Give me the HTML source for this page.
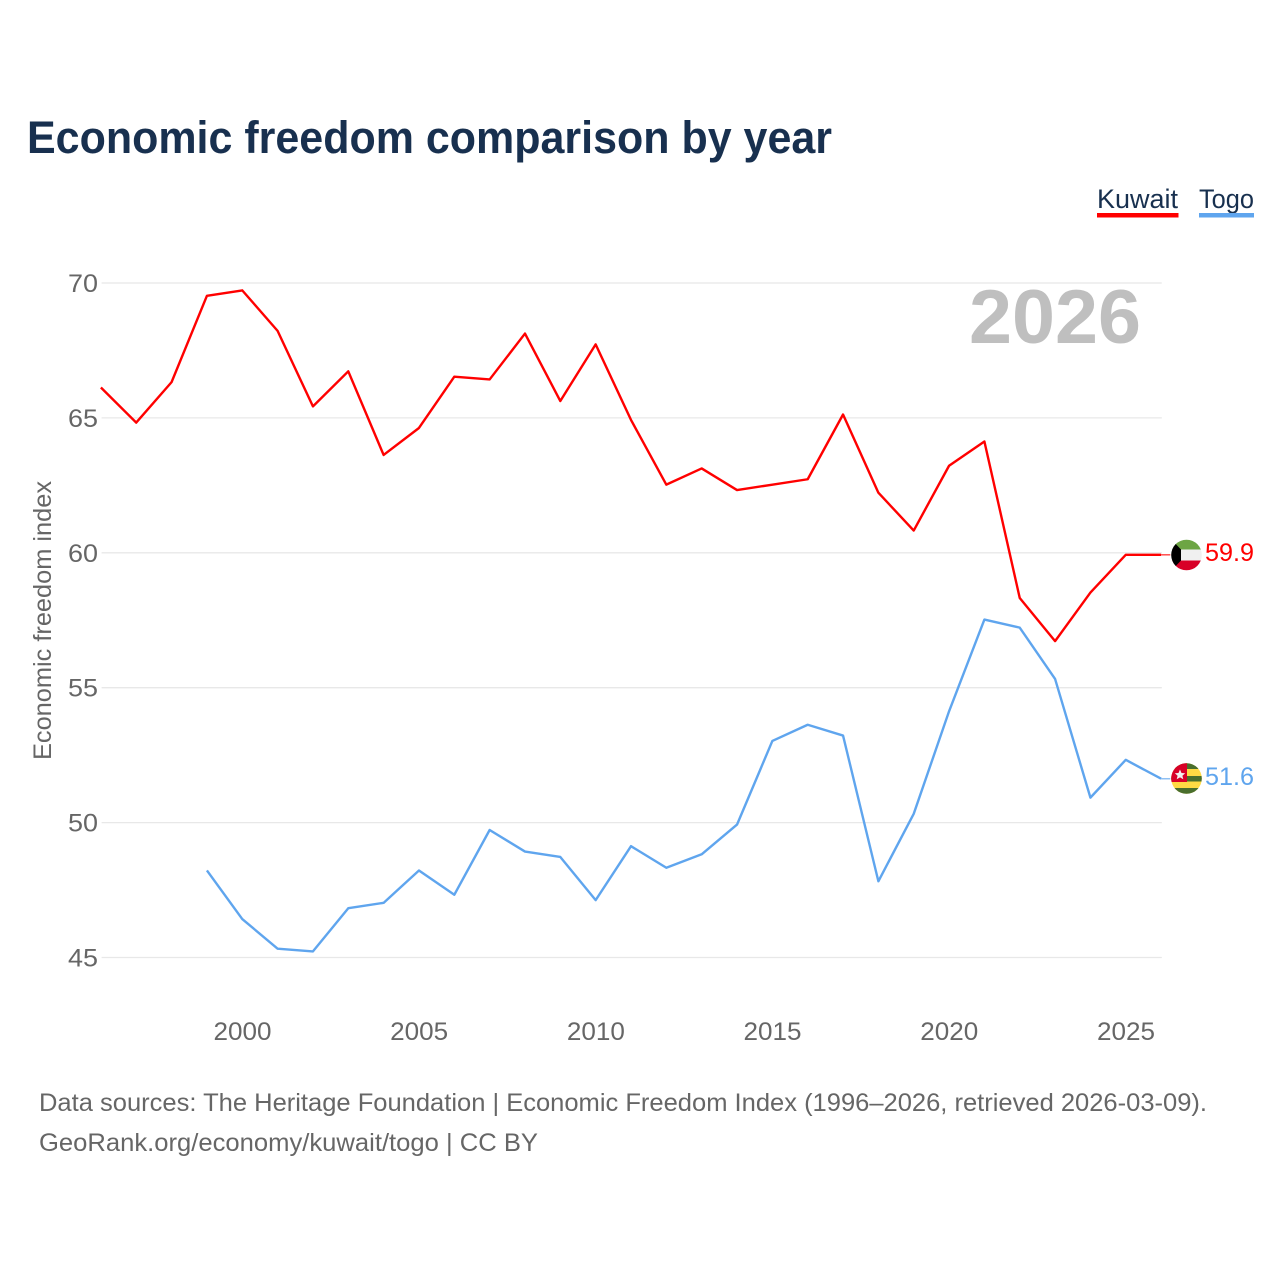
<!DOCTYPE html>
<html lang="en">
<head>
<meta charset="utf-8">
<title>Economic freedom comparison by year</title>
<style>
html,body{margin:0;padding:0;background:#fff;}
svg{display:block;}
text{font-family:"Liberation Sans",sans-serif;}
</style>
</head>
<body>
<svg id="chart" xmlns="http://www.w3.org/2000/svg" width="1280" height="1280" viewBox="0 0 1280 1280">
  <rect width="1280" height="1280" fill="#fff"/>
  <text x="27" y="153" font-size="45" font-weight="700" fill="#18304f" textLength="805" lengthAdjust="spacingAndGlyphs">Economic freedom comparison by year</text>

  <g>
    <g>
      <text x="1097" y="208" font-size="27" fill="#18304f" textLength="81" lengthAdjust="spacingAndGlyphs">Kuwait</text>
      <rect x="1097" y="213" width="81.500" height="4.500" fill="#ff0000"/>
    </g>
    <g>
      <text x="1199" y="208" font-size="27" fill="#18304f" textLength="55" lengthAdjust="spacingAndGlyphs">Togo</text>
      <rect x="1199" y="213" width="55" height="4.500" fill="#5fa5ee"/>
    </g>
  </g>

  <g id="grid"></g>
  <g id="yticks"></g>
  <g id="xticks"></g>

  <text transform="translate(51,760) rotate(-90)" font-size="25" fill="#666" textLength="279" lengthAdjust="spacingAndGlyphs">Economic freedom index</text>

  <text x="969" y="343" font-size="76" font-weight="700" fill="#bfbfbf" textLength="172" lengthAdjust="spacingAndGlyphs">2026</text>

  <g id="series" transform="translate(-0.7,-0.7)"></g>

  <defs>
    <clipPath id="clip-kuwait"><circle cx="1186.500" cy="555" r="15.300"/></clipPath>
    <clipPath id="clip-togo"><circle cx="1186.500" cy="778.500" r="15.300"/></clipPath>
  </defs>

  <g clip-path="url(#clip-kuwait)">
    <rect x="1171" y="539" width="32" height="10.500" fill="#6da544"/>
    <rect x="1171" y="549.500" width="32" height="11" fill="#f0f0f0"/>
    <rect x="1171" y="560.500" width="32" height="11" fill="#d80027"/>
    <polygon points="1171,539 1181,549.500 1181,560.500 1171,571" fill="#000"/>
  </g>
  <g clip-path="url(#clip-togo)">
    <rect x="1171" y="763" width="32" height="32" fill="#ffda44"/>
    <rect x="1171" y="763" width="32" height="6" fill="#496e2d"/>
    <rect x="1171" y="776" width="32" height="5.500" fill="#496e2d"/>
    <rect x="1171" y="788" width="32" height="7" fill="#496e2d"/>
    <rect x="1171" y="763" width="16" height="19" fill="#d80027"/>
    <polygon points="1180,769.500 1181.500,773 1185.200,773.300 1182.400,775.700 1183.300,779.300 1180,777.400 1176.700,779.300 1177.600,775.700 1174.800,773.300 1178.500,773" fill="#f0f0f0"/>
  </g>

  <text x="1205" y="561" font-size="25" fill="#ff0000" textLength="49" lengthAdjust="spacingAndGlyphs">59.9</text>
  <text x="1205" y="785" font-size="25" fill="#5fa5ee" textLength="49" lengthAdjust="spacingAndGlyphs">51.6</text>

  <text x="39" y="1111" font-size="25" fill="#666" textLength="1168" lengthAdjust="spacingAndGlyphs">Data sources: The Heritage Foundation | Economic Freedom Index (1996–2026, retrieved 2026-03-09).</text>
  <a><text x="39" y="1151" font-size="25" fill="#666" textLength="499" lengthAdjust="spacingAndGlyphs">GeoRank.org/economy/kuwait/togo | CC BY</text></a>
</svg>
<script>
const years = [1996,1997,1998,1999,2000,2001,2002,2003,2004,2005,2006,2007,2008,2009,2010,2011,2012,2013,2014,2015,2016,2017,2018,2019,2020,2021,2022,2023,2024,2025,2026];
const kuwaitValues = [66.1,64.8,66.3,69.5,69.7,68.2,65.4,66.7,63.6,64.6,66.5,66.4,68.1,65.6,67.7,64.9,62.5,63.1,62.3,62.5,62.7,65.1,62.2,60.8,63.2,64.1,58.3,56.7,58.5,59.9,59.9];
const togoValues = [null,null,null,48.2,46.4,45.3,45.2,46.8,47.0,48.2,47.3,49.7,48.9,48.7,47.1,49.1,48.3,48.8,49.9,53.0,53.6,53.2,47.8,50.3,54.1,57.5,57.2,55.3,50.9,52.3,51.6];
const yTickValues = [45,50,55,60,65,70];
const xTickValues = [2000,2005,2010,2015,2020,2025];

const NS = 'http://www.w3.org/2000/svg';
function xScale(year){ return 101.6 + (year - 1996) * (1161.8 - 101.6) / 30; }
function yScale(value){ return 957.5 - (value - 45) * (957.5 - 283) / 25; }

const gridGroup = document.getElementById('grid');
const yTickGroup = document.getElementById('yticks');
const xTickGroup = document.getElementById('xticks');
const seriesGroup = document.getElementById('series');

yTickValues.forEach(function(v){
  const line = document.createElementNS(NS, 'line');
  
  
  line.setAttribute('x1', xScale(1996));
  line.setAttribute('x2', xScale(2026));
  line.setAttribute('y1', yScale(v));
  line.setAttribute('y2', yScale(v));
  line.setAttribute('stroke', '#e8e8e8');
  line.setAttribute('stroke-width', '1.300');
  gridGroup.appendChild(line);

  const label = document.createElementNS(NS, 'text');
  
  
  label.setAttribute('x', 98);
  label.setAttribute('y', yScale(v) + 9);
  label.setAttribute('text-anchor', 'end');
  label.setAttribute('font-size', '25');
  label.setAttribute('fill', '#666');
  label.setAttribute('textLength', '30');
  label.setAttribute('lengthAdjust', 'spacingAndGlyphs');
  label.textContent = String(v);
  yTickGroup.appendChild(label);
});

xTickValues.forEach(function(v){
  const label = document.createElementNS(NS, 'text');
  
  
  label.setAttribute('x', xScale(v) - 0.5);
  label.setAttribute('y', 1040);
  label.setAttribute('text-anchor', 'middle');
  label.setAttribute('font-size', '25');
  label.setAttribute('fill', '#666');
  label.setAttribute('textLength', '58');
  label.setAttribute('lengthAdjust', 'spacingAndGlyphs');
  label.textContent = String(v);
  xTickGroup.appendChild(label);
});

function buildPoints(values){
  const pts = [];
  values.forEach(function(v, i){
    if (v !== null) pts.push(xScale(years[i]).toFixed(2) + ',' + yScale(v).toFixed(2));
  });
  return pts.join(' ');
}

const kuwaitLine = document.createElementNS(NS, 'polyline');


kuwaitLine.setAttribute('points', buildPoints(kuwaitValues));
kuwaitLine.setAttribute('fill', 'none');
kuwaitLine.setAttribute('stroke', '#ff0000');
kuwaitLine.setAttribute('stroke-width', '2.400');
kuwaitLine.setAttribute('stroke-linejoin', 'round');
seriesGroup.appendChild(kuwaitLine);

const togoLine = document.createElementNS(NS, 'polyline');


togoLine.setAttribute('points', buildPoints(togoValues));
togoLine.setAttribute('fill', 'none');
togoLine.setAttribute('stroke', '#5fa5ee');
togoLine.setAttribute('stroke-width', '2.400');
togoLine.setAttribute('stroke-linejoin', 'round');
seriesGroup.appendChild(togoLine);

const kuwaitConnector = document.createElementNS(NS, 'line');


kuwaitConnector.setAttribute('x1', xScale(2026));
kuwaitConnector.setAttribute('x2', 1171);
kuwaitConnector.setAttribute('y1', yScale(kuwaitValues[kuwaitValues.length - 1]));
kuwaitConnector.setAttribute('y2', yScale(kuwaitValues[kuwaitValues.length - 1]));
kuwaitConnector.setAttribute('stroke', '#ff0000');
kuwaitConnector.setAttribute('stroke-width', '1.500');
kuwaitConnector.setAttribute('stroke-opacity', '0.7');
seriesGroup.appendChild(kuwaitConnector);

const togoConnector = document.createElementNS(NS, 'line');


togoConnector.setAttribute('x1', xScale(2026));
togoConnector.setAttribute('x2', 1171);
togoConnector.setAttribute('y1', yScale(togoValues[togoValues.length - 1]));
togoConnector.setAttribute('y2', yScale(togoValues[togoValues.length - 1]));
togoConnector.setAttribute('stroke', '#5fa5ee');
togoConnector.setAttribute('stroke-width', '1.500');
togoConnector.setAttribute('stroke-opacity', '0.7');
seriesGroup.appendChild(togoConnector);
</script>
</body>
</html>
